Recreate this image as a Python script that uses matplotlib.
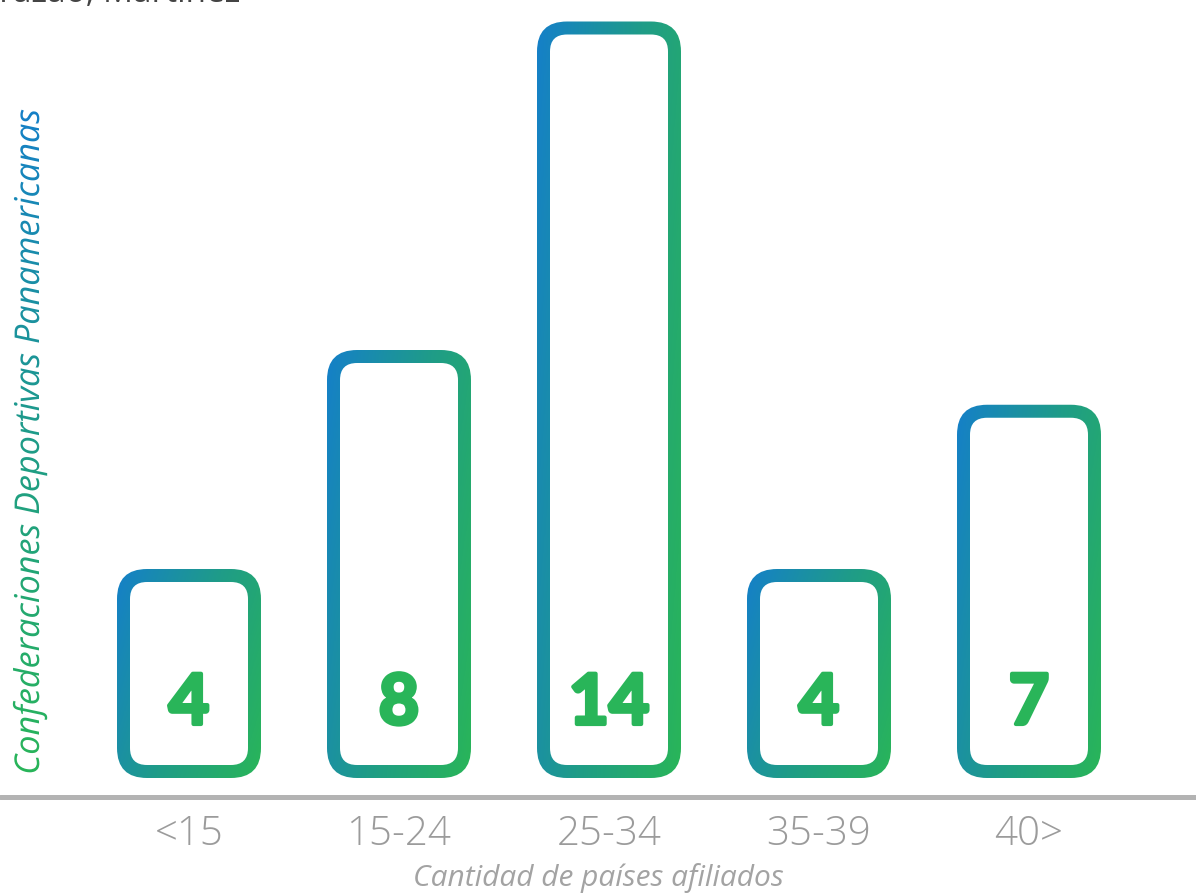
import matplotlib
matplotlib.use("Agg")
import matplotlib.pyplot as plt
import matplotlib.patheffects as pe
import numpy as np
from matplotlib.colors import LinearSegmentedColormap
from matplotlib.font_manager import FontProperties
from matplotlib.patches import FancyBboxPatch, PathPatch
from matplotlib.textpath import TextPath
from matplotlib.transforms import Affine2D

# ---- data -----------------------------------------------------------------
categories = ["<15", "15-24", "25-34", "35-39", "40>"]
counts = [4, 8, 14, 4, 7]
x_title = "Cantidad de países afiliados"
y_title = "Confederaciones Deportivas Panamericanas"
header_text = "Carrazao, Martinez"

# ---- layout / style -------------------------------------------------------
W, H, DPI = 1196, 894, 100
PX_PER_X = 210.0          # pixels per category step
PX_PER_Y = 54.75          # pixels per count unit
SPINE_PX = 797            # baseline row (from top)
ZERO_PX = 788             # count = 0 row (from top)
BAR_W_PX = 144
STROKE_PX = 13
R_OUT_PX = 30
FLOOR = 10 / PX_PER_Y     # bars float a little above zero

BLUE, GREEN = "#1580c8", "#29b559"
GREY = "#9b9b9b"
grad = LinearSegmentedColormap.from_list("bg", [BLUE, "#1f9c88", GREEN])

fig = plt.figure(figsize=(W / DPI, H / DPI), dpi=DPI)
ax = fig.add_axes([0, (H - SPINE_PX) / H, 1, SPINE_PX / H])
x_lo = -189 / PX_PER_X
x_hi = (W - 189) / PX_PER_X
y_lo = -(SPINE_PX - ZERO_PX) / PX_PER_Y
y_hi = ZERO_PX / PX_PER_Y

aspect = PX_PER_X / PX_PER_Y   # keeps corners circular on screen
bw = BAR_W_PX / PX_PER_X
sx, sy = STROKE_PX / PX_PER_X, STROKE_PX / PX_PER_Y
r_out = R_OUT_PX / PX_PER_X
r_in = (R_OUT_PX - STROKE_PX) / PX_PER_X

# mostly left-to-right gradient, tilted towards the bottom-right corner
u = np.linspace(0, 1, 64)
v = np.linspace(0, 1, 256)
U, V = np.meshgrid(u, v)
T = 0.68 * U + 0.32 * (1 - V)

for i, val in enumerate(counts):
    x0, y0 = i - bw / 2, FLOOR
    outer = FancyBboxPatch((x0, y0), bw, val - y0,
                           boxstyle=f"round,pad=0,rounding_size={r_out}",
                           mutation_aspect=aspect, transform=ax.transData,
                           facecolor="none", edgecolor="none")
    ax.add_patch(outer)
    im = ax.imshow(T, cmap=grad, origin="lower", aspect="auto",
                   extent=[x0, x0 + bw, y0, val], zorder=2)
    im.set_clip_path(outer)
    inner = FancyBboxPatch((x0 + sx, y0 + sy), bw - 2 * sx, val - y0 - 2 * sy,
                           boxstyle=f"round,pad=0,rounding_size={r_in}",
                           mutation_aspect=aspect, facecolor="white",
                           edgecolor="none", zorder=3)
    ax.add_patch(inner)
    ax.text(i, 64 / PX_PER_Y, str(val), ha="center", va="baseline",
            fontsize=50, fontweight="bold", family=["Lato", "DejaVu Sans"],
            color=GREEN, zorder=4,
            path_effects=[pe.withStroke(linewidth=3, foreground=GREEN,
                                        capstyle="round", joinstyle="round")])

ax.set_xlim(x_lo, x_hi)
ax.set_ylim(y_lo, y_hi)
for side in ("top", "right", "left"):
    ax.spines[side].set_visible(False)
ax.spines["bottom"].set_color("#b3b3b3")
ax.spines["bottom"].set_linewidth(3.6)
ax.spines["bottom"].set_capstyle("round")
ax.set_yticks([])
ax.set_xticks(range(len(categories)), categories)
ax.tick_params(axis="x", length=0, pad=12, labelsize=29, labelcolor=GREY)
for lbl in ax.get_xticklabels():
    lbl.set_family(["Open Sans", "DejaVu Sans"])
    lbl.set_fontweight("light")
ax.set_xlabel(x_title, fontsize=21.5, color="#a3a3a3", style="italic",
              family=["Open Sans", "DejaVu Sans"], labelpad=6)

# ---- gradient-coloured vertical title ------------------------------------
deco = fig.add_axes([0, 0, 1, 1], zorder=5)
deco.set_xlim(0, W)
deco.set_ylim(0, H)
deco.axis("off")

prop = FontProperties(family=["Open Sans", "DejaVu Sans"], style="italic")
tp = TextPath((0, 0), y_title, size=24.6, prop=prop)
ext = tp.get_extents()
scale = DPI / 72
cx, cy = 39, H - 441
tr = (Affine2D().translate(-(ext.x0 + ext.x1) / 2, 0).scale(scale)
      .rotate_deg(90).translate(cx, cy))
path = tr.transform_path(tp)
label_patch = PathPatch(path, transform=deco.transData,
                        facecolor="none", edgecolor="none")
deco.add_patch(label_patch)
pe_ext = path.get_extents()
g = np.linspace(0, 1, 256)[:, None]
lab_im = deco.imshow(g, cmap=LinearSegmentedColormap.from_list(
                         "lab", [GREEN, "#1f9c88", BLUE]),
                     origin="lower", aspect="auto",
                     extent=[pe_ext.x0 - 2, pe_ext.x1 + 2,
                             pe_ext.y0 - 2, pe_ext.y1 + 2])
lab_im.set_clip_path(label_patch)
deco.set_xlim(0, W)
deco.set_ylim(0, H)

# header line running off the top edge
fig.text(240 / W, 1 - 2 / H, header_text, ha="right", va="baseline",
         fontsize=24, color="#444444", family=["Open Sans", "DejaVu Sans"])

fig.savefig("out.png", dpi=DPI)
